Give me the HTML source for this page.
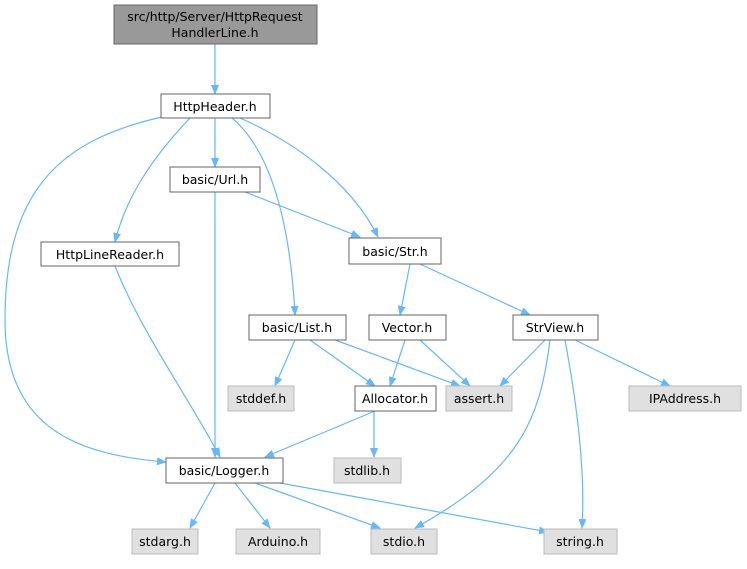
<!DOCTYPE html>
<html><head><meta charset="utf-8"><style>
html,body{margin:0;padding:0;background:#fff;}
svg text{font-family:"DejaVu Sans","Liberation Sans",sans-serif;font-size:12.5px;fill:#000;text-anchor:middle;}
</style></head><body>
<svg width="747" height="564" viewBox="0 0 747 564" xmlns="http://www.w3.org/2000/svg">
<defs><marker id="a" markerWidth="10" markerHeight="10" refX="9" refY="5" orient="auto" markerUnits="userSpaceOnUse"><path d="M0,1 L10,5 L0,9 z" fill="#63b8ff"/></marker></defs>
<g fill="none" stroke="#63b8ff" stroke-width="1.2" marker-end="url(#a)">
<path d="M215,44 L215,94"/>
<path d="M162,117 C60,140 5,190 5,320 C5,430 80,455 166,462"/>
<path d="M190,118 C150,160 125,200 115,242"/>
<path d="M215,118 L215,167"/>
<path d="M232,118 C270,150 290,220 295,315"/>
<path d="M240,118 C290,140 350,180 378,237"/>
<path d="M215,192 L215,457"/>
<path d="M245,192 L360,237"/>
<path d="M115,266 C140,330 190,400 220,457"/>
<path d="M410,264 L400,315"/>
<path d="M420,264 L530,315"/>
<path d="M295,340 L275,386"/>
<path d="M310,340 L375,386"/>
<path d="M335,340 L460,386"/>
<path d="M405,340 L390,386"/>
<path d="M420,340 L470,386"/>
<path d="M545,340 L500,386"/>
<path d="M575,340 L670,386"/>
<path d="M550,340 C540,420 520,470 415,528"/>
<path d="M565,340 C580,420 585,480 582,528"/>
<path d="M375,411 L265,457"/>
<path d="M374,411 L374,457"/>
<path d="M215,483 L190,528"/>
<path d="M235,483 L270,528"/>
<path d="M255,483 L380,528"/>
<path d="M280,483 L548,532"/>
</g>
<g stroke="#666" stroke-width="1">
<rect x="114" y="5" width="203" height="39" fill="#999"/>
<rect x="161" y="94" width="109" height="24" fill="#fff"/>
<rect x="170" y="167" width="90" height="25" fill="#fff"/>
<rect x="41" y="242" width="138" height="24" fill="#fff"/>
<rect x="349" y="238" width="92" height="26" fill="#fff"/>
<rect x="249" y="315" width="97" height="25" fill="#fff"/>
<rect x="369" y="315" width="77" height="25" fill="#fff"/>
<rect x="513" y="315" width="85" height="25" fill="#fff"/>
<rect x="355" y="386" width="81" height="25" fill="#fff"/>
<rect x="166" y="458" width="117" height="25" fill="#fff"/>
</g>
<g stroke="#bbb" stroke-width="1" fill="#e0e0e0">
<rect x="228" y="386" width="66" height="25"/>
<rect x="446" y="386" width="66" height="25"/>
<rect x="629" y="386" width="112" height="25"/>
<rect x="334" y="458" width="67" height="25"/>
<rect x="132" y="529" width="66" height="25"/>
<rect x="236" y="529" width="84" height="25"/>
<rect x="371" y="529" width="66" height="25"/>
<rect x="544" y="529" width="73" height="25"/>
</g>
<text x="215" y="21">src/http/Server/HttpRequest</text>
<text x="215" y="37">HandlerLine.h</text>
<text x="215" y="111">HttpHeader.h</text>
<text x="215" y="184">basic/Url.h</text>
<text x="110" y="259">HttpLineReader.h</text>
<text x="395" y="256">basic/Str.h</text>
<text x="297" y="332">basic/List.h</text>
<text x="407" y="332">Vector.h</text>
<text x="555" y="332">StrView.h</text>
<text x="261" y="403">stddef.h</text>
<text x="395" y="403">Allocator.h</text>
<text x="479" y="403">assert.h</text>
<text x="685" y="403">IPAddress.h</text>
<text x="224" y="475">basic/Logger.h</text>
<text x="367" y="475">stdlib.h</text>
<text x="165" y="546">stdarg.h</text>
<text x="278" y="546">Arduino.h</text>
<text x="404" y="546">stdio.h</text>
<text x="580" y="546">string.h</text>
</svg>
</body></html>
